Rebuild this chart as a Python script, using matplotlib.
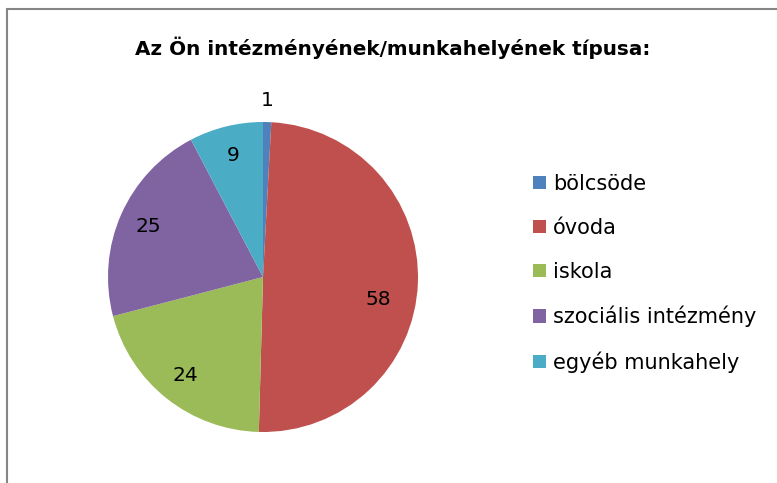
import numpy as np
import matplotlib
matplotlib.use("Agg")
import matplotlib.pyplot as plt
from matplotlib.patches import Rectangle

# Chart data
categories = ["bölcsöde", "óvoda", "iskola", "szociális intézmény", "egyéb munkahely"]
values = [1, 58, 24, 25, 9]
colors = ["#4F81BD", "#C0504D", "#9BBB59", "#8064A2", "#4BACC6"]
title = "Az Ön intézményének/munkahelyének típusa:"

W, H = 777, 483
fig = plt.figure(figsize=(W / 100, H / 100), dpi=100)

# chart area border (runs off right and bottom like the screenshot)
fig.patches.append(Rectangle((7 / W, -0.2), 1.5, 1.2 - 9 / H, transform=fig.transFigure,
                             fill=False, edgecolor="#868686", linewidth=1.5))

# pie axes: center ~ (263, 277) px, radius ~155 px
r = 155
ax = fig.add_axes([(263 - r) / W, (H - 277 - r) / H, 2 * r / W, 2 * r / H])
wedges, texts = ax.pie(values, colors=colors, startangle=90, counterclock=False,
                       radius=1.0, wedgeprops=dict(linewidth=0))
ax.set_xlim(-1, 1)
ax.set_ylim(-1, 1)
ax.set_aspect("equal")
ax.axis("off")

# data labels
total = sum(values)
for i, (w, v) in enumerate(zip(wedges, values)):
    ang = np.deg2rad((w.theta1 + w.theta2) / 2)
    dist = 0.81
    if v / total < 0.03:
        dist = 1.14
    if i == 1:
        ang = np.deg2rad(-11)
        dist = 0.76
    ax.text(dist * np.cos(ang), dist * np.sin(ang), str(v), ha="center", va="center",
            fontsize=14.5, color="black", clip_on=False)

fig.text(393 / W, 1 - 48 / H, title, ha="center", va="center",
         fontsize=14.4, fontweight="bold")

# legend
handles = [Rectangle((0, 0), 1, 1, facecolor=c, edgecolor="none") for c in colors]
fig.legend(handles, categories, loc="upper left", bbox_to_anchor=(533 / W, 1 - 174 / H),
           frameon=False, fontsize=15, handlelength=0.6, handleheight=0.6,
           handletextpad=0.35, labelspacing=1.15, borderpad=0, borderaxespad=0)

fig.savefig("out.png", dpi=100)
